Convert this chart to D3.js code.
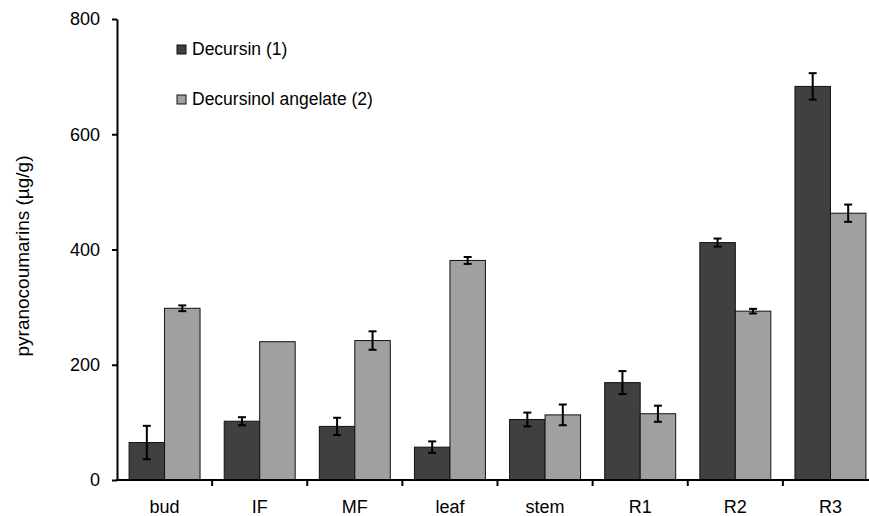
<!DOCTYPE html>
<html>
<head>
<meta charset="utf-8">
<script src="https://cdn.jsdelivr.net/npm/d3@7/dist/d3.min.js"></script>
<style>
  body { margin: 0; background: #fff; }
  svg { display: block; font-family: "Liberation Sans", Arial, sans-serif; }
</style>
</head>
<body>
<div id="chart"></div>
<script>
// Data
var categories = ["bud", "IF", "MF", "leaf", "stem", "R1", "R2", "R3"];
var seriesNames = ["Decursin (1)", "Decursinol angelate (2)"];
var decursin = [65, 102, 93, 57, 105, 169, 412, 683];
var decursinErr = [29, 7, 15, 10, 12, 20, 7, 23];
var angelate = [298, 240, 242, 381, 113, 115, 293, 463];
var angelateErr = [5, 0, 16, 6, 18, 14, 4, 15];
var yTicks = [0, 200, 400, 600, 800];

var width = 869, height = 516;
var colors = ["#404040", "#a0a0a0"];

var svg = d3.select("#chart").append("svg")
    .attr("width", width)
    .attr("height", height);

var x = d3.scaleBand()
    .domain(categories)
    .range([117, 878])
    .paddingInner(0.254)
    .paddingOuter(0.127);

var x1 = d3.scaleBand()
    .domain([0, 1])
    .range([0, x.bandwidth()]);

var y = d3.scaleLinear()
    .domain([0, 800])
    .range([480, 19]);

var rows = categories.map(function(c, i) {
  return {
    cat: c,
    vals: [
      { s: 0, v: decursin[i], e: decursinErr[i] },
      { s: 1, v: angelate[i], e: angelateErr[i] }
    ]
  };
});

var groups = svg.selectAll("g.grp")
    .data(rows)
  .enter().append("g")
    .attr("class", "grp")
    .attr("transform", function(d) { return "translate(" + x(d.cat) + ",0)"; });

groups.selectAll("rect")
    .data(function(d) { return d.vals; })
  .enter().append("rect")
    .attr("x", function(d) { return x1(d.s); })
    .attr("y", function(d) { return y(d.v); })
    .attr("width", x1.bandwidth())
    .attr("height", function(d) { return y(0) - y(d.v); })
    .style("fill", function(d) { return colors[d.s]; })
    .style("stroke", "#111")
    .style("stroke-width", 1);

// error bars
var eb = groups.selectAll("g.err")
    .data(function(d) { return d.vals.filter(function(v) { return v.e > 0; }); })
  .enter().append("g")
    .attr("class", "err")
    .style("stroke", "#000")
    .style("stroke-width", 2);

eb.append("line")
    .attr("x1", function(d) { return x1(d.s) + x1.bandwidth() / 2; })
    .attr("x2", function(d) { return x1(d.s) + x1.bandwidth() / 2; })
    .attr("y1", function(d) { return y(d.v + d.e); })
    .attr("y2", function(d) { return y(d.v - d.e); });

[1, -1].forEach(function(sign) {
  eb.append("line")
    .attr("x1", function(d) { return x1(d.s) + x1.bandwidth() / 2 - 4; })
    .attr("x2", function(d) { return x1(d.s) + x1.bandwidth() / 2 + 4; })
    .attr("y1", function(d) { return y(d.v + sign * d.e); })
    .attr("y2", function(d) { return y(d.v + sign * d.e); });
});

// y axis
var yAxis = svg.append("g")
    .attr("transform", "translate(117,0)")
    .call(d3.axisLeft(y).tickValues(yTicks).tickSize(5).tickPadding(12).tickSizeOuter(0));
yAxis.select(".domain").style("stroke", "#000").style("stroke-width", 2);
yAxis.selectAll(".tick line").style("stroke", "#000").style("stroke-width", 2);
yAxis.selectAll("text")
    .style("font-size", "18px")
    .style("fill", "#000")
    .style("font-family", "Liberation Sans, Arial, sans-serif");

// x axis with ticks between categories
var xAxisG = svg.append("g").attr("transform", "translate(0,480)");
xAxisG.append("line")
    .attr("x1", 116).attr("x2", 878)
    .style("stroke", "#000").style("stroke-width", 2);
var step = x.step();
xAxisG.selectAll("line.sep")
    .data(categories.slice(1))
  .enter().append("line")
    .attr("class", "sep")
    .attr("x1", function(d) { return x(d) - x.paddingOuter() * step; })
    .attr("x2", function(d) { return x(d) - x.paddingOuter() * step; })
    .attr("y1", 0).attr("y2", 6)
    .style("stroke", "#000").style("stroke-width", 2);
xAxisG.selectAll("text")
    .data(categories)
  .enter().append("text")
    .attr("x", function(d) { return x(d) + x.bandwidth() / 2; })
    .attr("y", 33)
    .attr("text-anchor", "middle")
    .style("font-size", "18px")
    .text(function(d) { return d; });

// y axis title
svg.append("text")
    .attr("transform", "translate(29,256) rotate(-90)")
    .attr("text-anchor", "middle")
    .style("font-size", "19px")
    .text("pyranocoumarins (µg/g)");

// legend
var legend = svg.selectAll("g.leg")
    .data(seriesNames)
  .enter().append("g")
    .attr("class", "leg")
    .attr("transform", function(d, i) { return "translate(177," + (45 + i * 50) + ")"; });
legend.append("rect")
    .attr("width", 9).attr("height", 9)
    .style("fill", function(d, i) { return colors[i]; })
    .style("stroke", "#111");
legend.append("text")
    .attr("x", 15).attr("y", 10)
    .style("font-size", "17.5px")
    .text(function(d) { return d; });
</script>
</body>
</html>
